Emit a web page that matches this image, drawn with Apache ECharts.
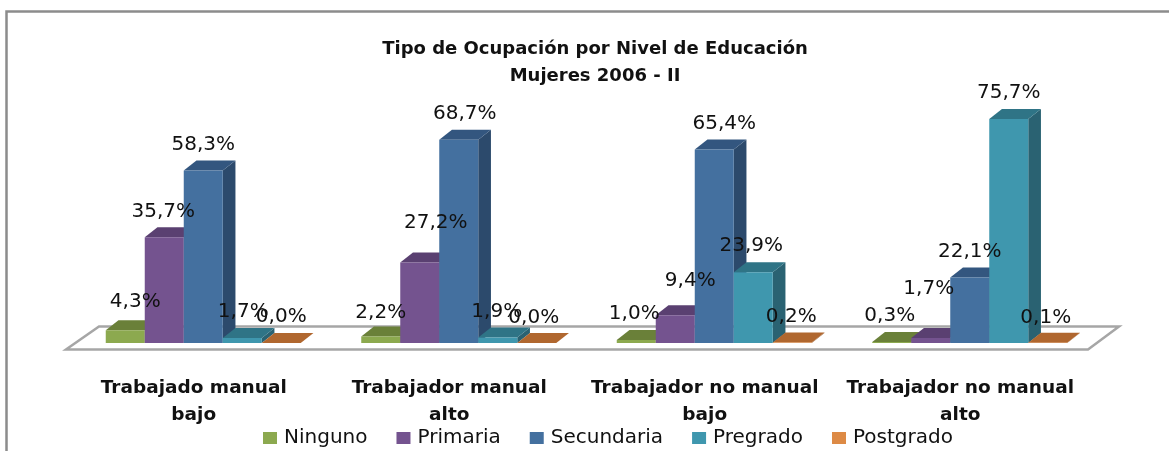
<!DOCTYPE html>
<html>
<head>
<meta charset="utf-8">
<style>html,body{margin:0;padding:0;background:#fff;overflow:hidden}#c{width:1169px;height:451px;filter:blur(0.5px)}</style>
<script src="https://cdn.jsdelivr.net/npm/echarts@6/dist/echarts.min.js"></script>
</head>
<body>
<div id="c"></div>
<script>
const categories = ['Trabajado manual\nbajo', 'Trabajador manual\nalto', 'Trabajador no manual\nbajo', 'Trabajador no manual\nalto'];
const seriesNames = ['Ninguno', 'Primaria', 'Secundaria', 'Pregrado', 'Postgrado'];
const ninguno    = [4.3, 2.2, 1.0, 0.3];
const primaria   = [35.7, 27.2, 9.4, 1.7];
const secundaria = [58.3, 68.7, 65.4, 22.1];
const pregrado   = [1.7, 1.9, 23.9, 75.7];
const postgrado  = [0.0, 0.0, 0.2, 0.1];
const seriesValues = [ninguno, primaria, secundaria, pregrado, postgrado];

const frontColors = ['#8CA94F', '#74538F', '#44709F', '#3F97AE', '#DD8A45'];
const topColors   = ['#6A8039', '#5A4071', '#33567F', '#2F7486', '#B0672F'];
const sideColors  = ['#5C7032', '#4B355F', '#2C4A6C', '#2A6272', '#965828'];

// hand-placed labels in the original, offsets [dx, dy] from the default spot, per series and category
const labelShifts = [
  [[10, -2], [0, 2], [-2, 0], [-2, 0]],
  [[-1, 0], [16, -14], [15, -8], [-2, -23]],
  [[0, 0], [6, 0], [10, 0], [0, 0]],
  [[1, 0], [-1, 0], [-2, 0], [0, 0]],
  [[0, 0], [-3, 1], [-1, 0], [-2, 1]]
];

const fmt = v => v.toFixed(1).replace('.', ',') + '%';
const BAR_W = 39, DX = 12.7, DY = -10, GROUP_SHIFT = 9.5, LABEL_UP = 26;

function barLeft(cx, si) { return cx + GROUP_SHIFT + (si - 2.5) * BAR_W; }

function barRenderer(si) {
  return function (params, api) {
    const ci = api.value(0), v = api.value(1);
    const c = api.coord([ci, v]), base = api.coord([ci, 0]);
    const x0 = barLeft(c[0], si);
    const x1 = x0 + BAR_W, yT = c[1], yB = base[1];
    return {
      type: 'group',
      children: [
        { type: 'polygon', shape: { points: [[x1, yT], [x1 + DX, yT + DY], [x1 + DX, yB + DY], [x1, yB]] }, style: { fill: sideColors[si] } },
        { type: 'polygon', shape: { points: [[x0, yT], [x1, yT], [x1 + DX, yT + DY], [x0 + DX, yT + DY]] }, style: { fill: topColors[si] } },
        { type: 'rect', shape: { x: x0, y: yT, width: BAR_W, height: yB - yT }, style: { fill: frontColors[si] } }
      ]
    };
  };
}

function labelRenderer(si) {
  return function (params, api) {
    const ci = api.value(0), v = api.value(1);
    const c = api.coord([ci, v]);
    const s = labelShifts[si][ci];
    return {
      type: 'text',
      style: { x: barLeft(c[0], si) + BAR_W / 2 + s[0], y: c[1] - LABEL_UP + s[1], text: fmt(v), fill: '#111', font: '20px "DejaVu Sans"', align: 'center', verticalAlign: 'middle' }
    };
  };
}

function floorRenderer(params, api) {
  const cs = params.coordSys, yF = cs.y + cs.height + 6.5;
  return {
    type: 'polygon',
    shape: { points: [[cs.x, yF], [cs.x + cs.width, yF], [cs.x + cs.width + 31, yF - 23], [cs.x + 33, yF - 23]] },
    style: { fill: '#fff', stroke: '#A6A6A6', lineWidth: 2.5 }
  };
}

const chart = echarts.init(document.getElementById('c'), null, { renderer: 'canvas' });
chart.setOption({
  animation: false,
  backgroundColor: '#fff',
  title: {
    text: 'Tipo de Ocupación por Nivel de Educación\nMujeres 2006 - II',
    left: 590, top: 31, textAlign: 'center',
    textStyle: { fontFamily: 'DejaVu Sans', fontSize: 18, fontWeight: 'bold', color: '#111', lineHeight: 27 }
  },
  legend: {
    data: seriesNames, left: 258, top: 423, icon: 'rect',
    itemWidth: 14, itemHeight: 12, itemGap: 29,
    textStyle: { fontFamily: 'DejaVu Sans', fontSize: 20, color: '#111', padding: [0, 0, 0, 2] }
  },
  grid: { left: 66, width: 1022, top: 47, height: 296 },
  xAxis: {
    type: 'category', data: categories,
    axisLine: { show: false }, axisTick: { show: false },
    axisLabel: { interval: 0, margin: 32, fontFamily: 'DejaVu Sans', fontSize: 18.5, fontWeight: 'bold', color: '#111', lineHeight: 27 }
  },
  yAxis: { type: 'value', min: 0, max: 100, show: false, splitLine: { show: false } },
  graphic: [{
    type: 'polyline', z: 0, silent: true,
    shape: { points: [[6.5, 451], [6.5, 11.5], [1169, 11.5]] },
    style: { fill: 'none', stroke: '#8C8C8C', lineWidth: 2.5 }
  }],
  series: [
    { type: 'custom', name: 'piso', z: 1, silent: true, data: [[0, 0]], renderItem: floorRenderer },
    ...seriesNames.map((name, si) => ({
      type: 'custom', name, z: 2 + si, silent: true,
      itemStyle: { color: frontColors[si] },
      encode: { x: 0, y: 1 },
      data: seriesValues[si].map((v, ci) => [ci, v]),
      renderItem: barRenderer(si)
    })),
    ...seriesNames.map((name, si) => ({
      type: 'custom', name: name + ' etiquetas', z: 20, silent: true,
      encode: { x: 0, y: 1 },
      data: seriesValues[si].map((v, ci) => [ci, v]),
      renderItem: labelRenderer(si)
    }))
  ]
});
</script>
</body>
</html>
